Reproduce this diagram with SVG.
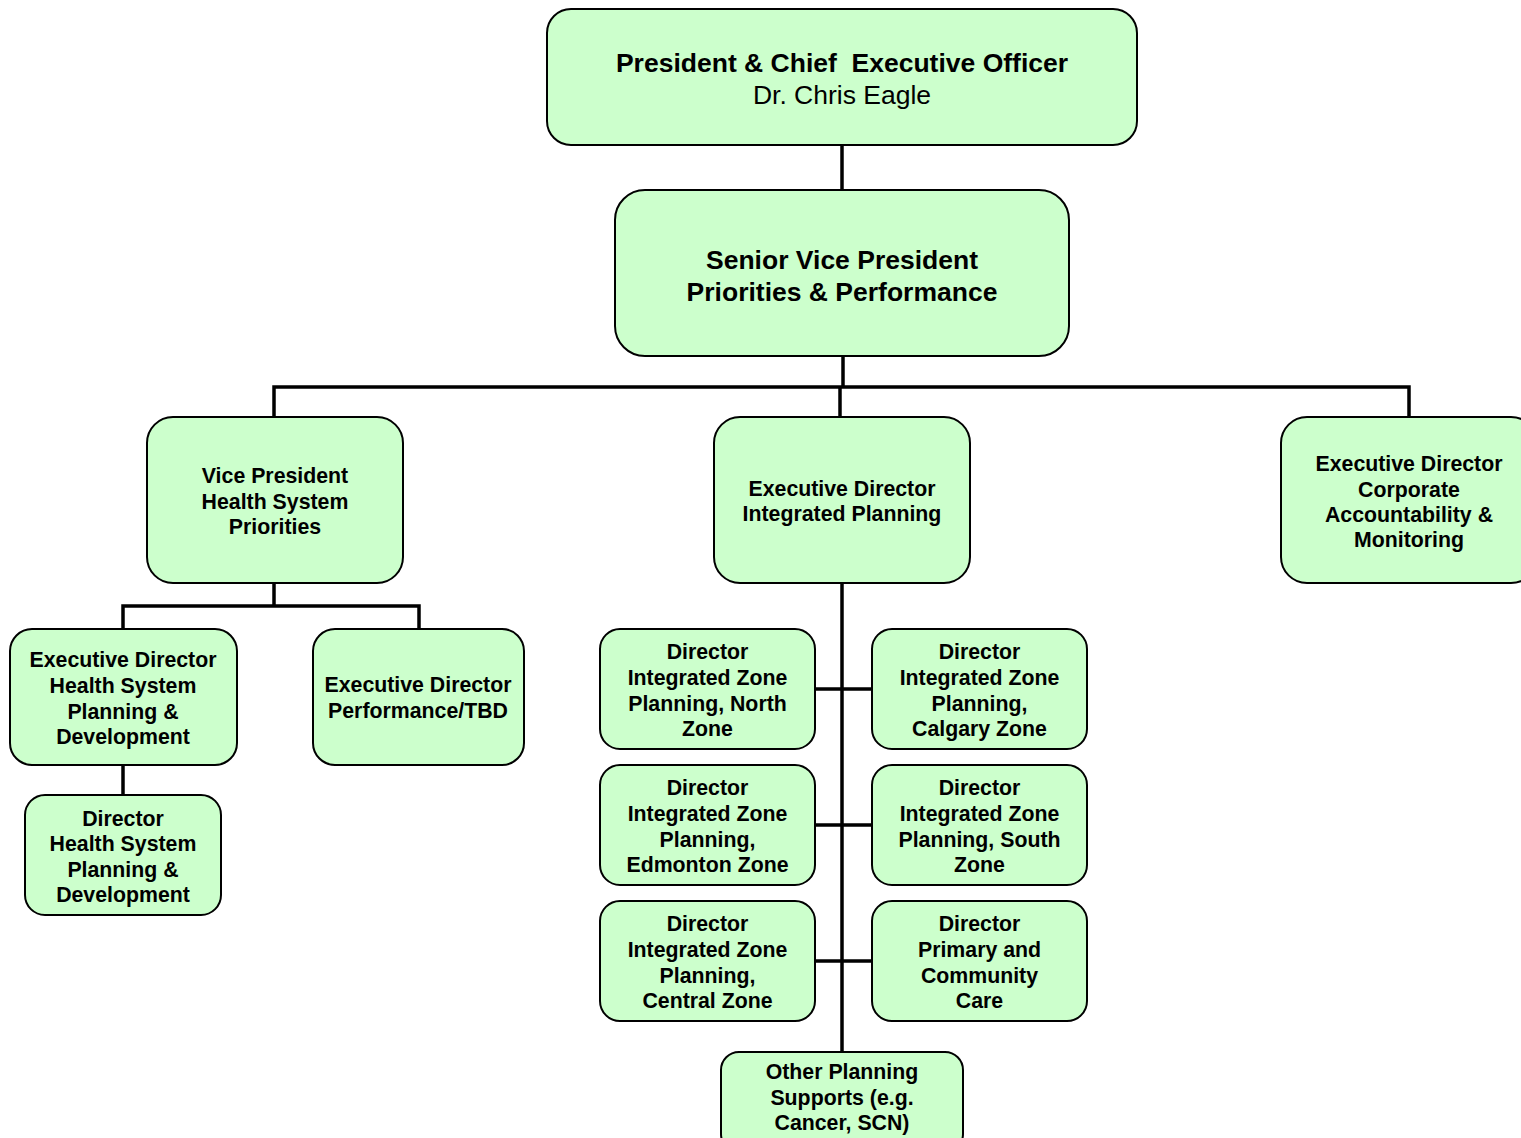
<svg xmlns="http://www.w3.org/2000/svg" width="1521" height="1138" viewBox="0 0 1521 1138">
<style>
.box{fill:#CCFFCC;stroke:#000;stroke-width:2}
.t{font-family:"Liberation Sans",Arial,sans-serif;font-size:21.3px;font-weight:bold;text-anchor:middle;fill:#000}
.big{font-size:26.5px}
.reg{font-weight:normal}
.c{fill:none;stroke:#000;stroke-width:3.5}
</style>
<rect width="1521" height="1138" fill="#fff"/>
<g id="connectors">
<path class="c" d="M842 145V190"/>
<path class="c" d="M843 356V387"/>
<path class="c" d="M274 417V387H1409V417"/>
<path class="c" d="M840 387V417"/>
<path class="c" d="M274 583V606M123 629V606H419V629"/>
<path class="c" d="M123 765V795"/>
<path class="c" d="M842 583V1052"/>
<path class="c" d="M815 689H872M815 825H872M815 961H872"/>
</g>
<g id="ceo"><rect class="box" x="547" y="9" width="590" height="136" rx="24"/>
<text class="t big" x="842" y="72" style="white-space:pre">President &amp; Chief  Executive Officer</text>
<text class="t big reg" x="842" y="104">Dr. Chris Eagle</text></g>
<g id="svp"><rect class="box" x="615" y="190" width="454" height="166" rx="30"/>
<text class="t big" x="842" y="269">Senior Vice President</text>
<text class="t big" x="842" y="301">Priorities &amp; Performance</text></g>
<g id="vp"><rect class="box" x="147" y="417" width="256" height="166" rx="26"/>
<text class="t" x="275" y="483">Vice President</text>
<text class="t" x="275" y="509">Health System</text>
<text class="t" x="275" y="534">Priorities</text></g>
<g id="ed-ip"><rect class="box" x="714" y="417" width="256" height="166" rx="26"/>
<text class="t" x="842" y="496">Executive Director</text>
<text class="t" x="842" y="521">Integrated Planning</text></g>
<g id="ed-corp"><rect class="box" x="1281" y="417" width="256" height="166" rx="26"/>
<text class="t" x="1409" y="471">Executive Director</text>
<text class="t" x="1409" y="497">Corporate</text>
<text class="t" x="1409" y="522">Accountability &amp;</text>
<text class="t" x="1409" y="547">Monitoring</text></g>
<g id="ed-hspd"><rect class="box" x="10" y="629" width="227" height="136" rx="22"/>
<text class="t" x="123" y="667">Executive Director</text>
<text class="t" x="123" y="693">Health System</text>
<text class="t" x="123" y="719">Planning &amp;</text>
<text class="t" x="123" y="744">Development</text></g>
<g id="ed-perf"><rect class="box" x="313" y="629" width="211" height="136" rx="22"/>
<text class="t" x="418" y="692">Executive Director</text>
<text class="t" x="418" y="718">Performance/TBD</text></g>
<g id="dir-hspd"><rect class="box" x="25" y="795" width="196" height="120" rx="20"/>
<text class="t" x="123" y="826">Director</text>
<text class="t" x="123" y="851">Health System</text>
<text class="t" x="123" y="877">Planning &amp;</text>
<text class="t" x="123" y="902">Development</text></g>
<g id="dir-north"><rect class="box" x="600" y="629" width="215" height="120" rx="20"/>
<text class="t" x="707.5" y="659">Director</text>
<text class="t" x="707.5" y="685">Integrated Zone</text>
<text class="t" x="707.5" y="711">Planning, North</text>
<text class="t" x="707.5" y="736">Zone</text></g>
<g id="dir-calgary"><rect class="box" x="872" y="629" width="215" height="120" rx="20"/>
<text class="t" x="979.5" y="659">Director</text>
<text class="t" x="979.5" y="685">Integrated Zone</text>
<text class="t" x="979.5" y="711">Planning,</text>
<text class="t" x="979.5" y="736">Calgary Zone</text></g>
<g id="dir-edmonton"><rect class="box" x="600" y="765" width="215" height="120" rx="20"/>
<text class="t" x="707.5" y="795">Director</text>
<text class="t" x="707.5" y="821">Integrated Zone</text>
<text class="t" x="707.5" y="847">Planning,</text>
<text class="t" x="707.5" y="872">Edmonton Zone</text></g>
<g id="dir-south"><rect class="box" x="872" y="765" width="215" height="120" rx="20"/>
<text class="t" x="979.5" y="795">Director</text>
<text class="t" x="979.5" y="821">Integrated Zone</text>
<text class="t" x="979.5" y="847">Planning, South</text>
<text class="t" x="979.5" y="872">Zone</text></g>
<g id="dir-central"><rect class="box" x="600" y="901" width="215" height="120" rx="20"/>
<text class="t" x="707.5" y="931">Director</text>
<text class="t" x="707.5" y="957">Integrated Zone</text>
<text class="t" x="707.5" y="983">Planning,</text>
<text class="t" x="707.5" y="1008">Central Zone</text></g>
<g id="dir-pcc"><rect class="box" x="872" y="901" width="215" height="120" rx="20"/>
<text class="t" x="979.5" y="931">Director</text>
<text class="t" x="979.5" y="957">Primary and</text>
<text class="t" x="979.5" y="983">Community</text>
<text class="t" x="979.5" y="1008">Care</text></g>
<g id="other"><rect class="box" x="721" y="1052" width="242" height="100" rx="18"/>
<text class="t" x="842" y="1079">Other Planning</text>
<text class="t" x="842" y="1105">Supports (e.g.</text>
<text class="t" x="842" y="1130">Cancer, SCN)</text></g>
</svg>
